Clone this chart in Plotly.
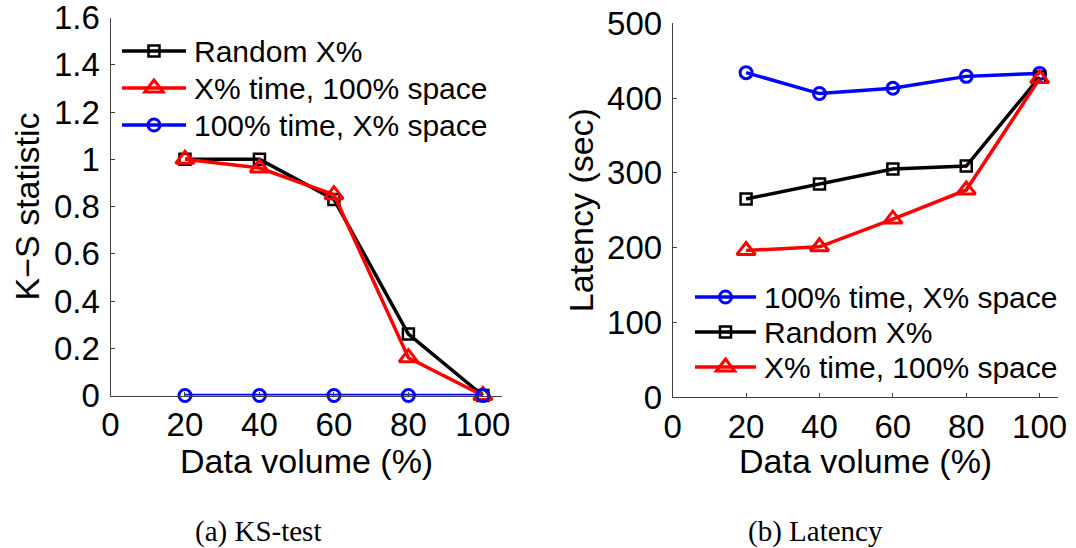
import plotly.graph_objects as go

# ---- data ----
volume = [20, 40, 60, 80, 100]
tick_x = [0, 20, 40, 60, 80, 100]

ks_random = [1.0, 1.0, 0.83, 0.26, 0.0]
ks_time = [1.0, 0.963, 0.85, 0.16, 0.0]
ks_space = [0.0, 0.0, 0.0, 0.0, 0.0]
ks_ticks = [0, 0.2, 0.4, 0.6, 0.8, 1.0, 1.2, 1.4, 1.6]
ks_ticktext = ["0", "0.2", "0.4", "0.6", "0.8", "1", "1.2", "1.4", "1.6"]

lat_space = [434, 406, 413, 429, 433]
lat_random = [265, 285, 305, 309, 428]
lat_time = [196, 201, 238, 277, 426]
lat_ticks = [0, 100, 200, 300, 400, 500]

W, H = 1076, 548
BLACK, RED, BLUE = "#000000", "#ff0000", "#0000ff"
SANS = "Liberation Sans, Arial, sans-serif"
SERIF = "Liberation Serif, Times New Roman, serif"
LINE_W = 3.5

styles = {
    "random": dict(color=BLACK, symbol="square-open", size=11, lw=2.5, name="Random X%"),
    "time": dict(color=RED, symbol="triangle-up-open", size=16, lw=3, name="X% time, 100% space"),
    "space": dict(color=BLUE, symbol="circle-open", size=12, lw=3, name="100% time, X% space"),
}


def px(x):
    return x / W


def py(y):
    return 1 - y / H


def trace(key, y, xa, ya):
    s = styles[key]
    return go.Scatter(
        x=volume, y=y, xaxis=xa, yaxis=ya, mode="lines+markers",
        name=s["name"], showlegend=False, cliponaxis=False,
        line=dict(color=s["color"], width=LINE_W),
        marker=dict(symbol=s["symbol"], size=s["size"], color=s["color"],
                    line=dict(color=s["color"], width=s["lw"])),
    )


fig = go.Figure()
# left panel: K-S statistic
fig.add_trace(trace("random", ks_random, "x", "y"))
fig.add_trace(trace("time", ks_time, "x", "y"))
fig.add_trace(trace("space", ks_space, "x", "y"))
# right panel: latency
fig.add_trace(trace("space", lat_space, "x2", "y2"))
fig.add_trace(trace("random", lat_random, "x2", "y2"))
fig.add_trace(trace("time", lat_time, "x2", "y2"))

axis_common = dict(
    showline=True, linecolor="#404040", linewidth=1, mirror=False,
    ticks="inside", ticklen=4, tickcolor="#404040", tickwidth=1,
    showgrid=False, zeroline=False, automargin=False,
    ticklabeloverflow="allow",
    tickfont=dict(family=SANS, size=33, color="#000000"),
)

L_X0, L_X1, L_Y0, L_Y1 = 110.5, 501.5, 395.5, 17.5
R_X0, R_X1, R_Y0, R_Y1 = 672.7, 1058.0, 397.0, 23.3

fig.update_layout(
    width=W, height=H,
    margin=dict(l=0, r=0, t=0, b=0, pad=0, autoexpand=False),
    paper_bgcolor="white", plot_bgcolor="white",
    showlegend=False,
    xaxis=dict(axis_common, domain=[px(L_X0), px(L_X1)], range=[0, 105],
               tickvals=tick_x, anchor="y", ticklabelstandoff=0),
    yaxis=dict(axis_common, domain=[py(L_Y0), py(L_Y1)], range=[0, 1.6],
               tickvals=ks_ticks, ticktext=ks_ticktext, anchor="x", ticklabelstandoff=3),
    xaxis2=dict(axis_common, domain=[px(R_X0), px(R_X1)], range=[0, 105],
                tickvals=tick_x, anchor="y2", ticklabelstandoff=0),
    yaxis2=dict(axis_common, domain=[py(R_Y0), py(R_Y1)], range=[0, 500],
                tickvals=lat_ticks, anchor="x2", ticklabelstandoff=3),
)

annotations = []
shapes = []


def text(x, y, s, size, family=SANS, xanchor="center", angle=0):
    annotations.append(dict(
        x=px(x), y=py(y), xref="paper", yref="paper", text=s, showarrow=False,
        xanchor=xanchor, yanchor="middle", textangle=angle,
        font=dict(family=family, size=size, color="#000000"),
    ))


# axis titles
text((L_X0 + L_X1) / 2, 461, "Data volume (%)", 34)
text((R_X0 + R_X1) / 2, 461, "Data volume (%)", 34)
text(26, (L_Y0 + L_Y1) / 2, "K\u2212S statistic", 34, angle=-90)
text(581, (R_Y0 + R_Y1) / 2, "Latency (sec)", 34, angle=-90)

# captions
text(258, 531, "(a) KS-test", 29, family=SERIF)
text(815, 531, "(b) Latency", 29, family=SERIF)


def legend_entry(key, row_y, line_x0, line_x1, text_x):
    s = styles[key]
    shapes.append(dict(type="line", xref="paper", yref="paper",
                       x0=px(line_x0), x1=px(line_x1), y0=py(row_y), y1=py(row_y),
                       line=dict(color=s["color"], width=LINE_W)))
    xc = px((line_x0 + line_x1) / 2)
    yc = py(row_y)
    marker = dict(xref="paper", yref="paper", xsizemode="pixel", ysizemode="pixel",
                  xanchor=xc, yanchor=yc, line=dict(color=s["color"], width=s["lw"]),
                  fillcolor="rgba(0,0,0,0)")
    half = s["size"] / 2
    if key == "random":
        marker.update(type="rect", x0=-half, x1=half, y0=-half, y1=half)
    elif key == "space":
        marker.update(type="circle", x0=-half, x1=half, y0=-half, y1=half)
    else:
        rt = half * 2 / 3 ** 0.5
        marker.update(type="path",
                      path=f"M{-rt:.2f},{-half / 2:.2f} L{rt:.2f},{-half / 2:.2f} L0,{half:.2f} Z")
    shapes.append(marker)
    text(text_x, row_y, s["name"], 30, xanchor="left")


# legends
for key, row in zip(["random", "time", "space"], [51, 88, 125]):
    legend_entry(key, row, 122, 186, 192)
for key, row in zip(["space", "random", "time"], [297, 332, 367]):
    legend_entry(key, row, 695, 756, 762)

fig.update_layout(annotations=annotations, shapes=shapes)

fig.write_html("out.html")
